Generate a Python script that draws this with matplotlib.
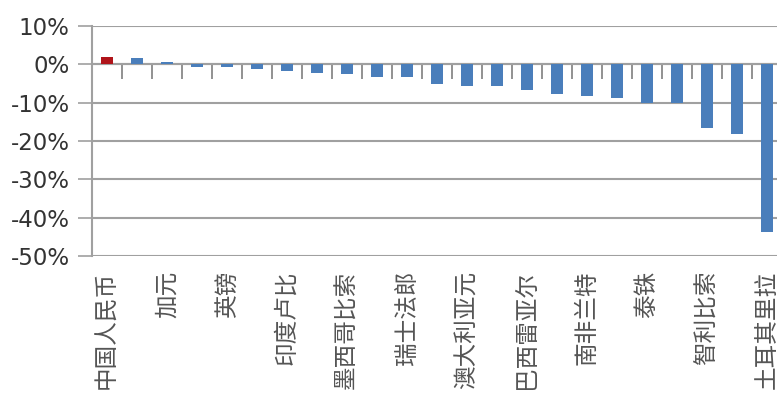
import numpy as np
import matplotlib.pyplot as plt
import matplotlib.transforms as mtransforms

plt.rcParams['font.family'] = ['Noto Sans CJK SC', 'DejaVu Sans']

# currency change vs USD (%), sorted
values = [2.0, 1.6, 0.5, -0.6, -0.6, -1.2, -1.7, -2.2, -2.6, -3.2, -3.2, -5.2,
          -5.7, -5.7, -6.7, -7.7, -8.2, -8.7, -10.0, -10.0, -16.7, -18.2, -43.7]
# only every other category is labelled in the original chart
shown_labels = ['中国人民币', '加元', '英镑', '印度卢比', '墨西哥比索', '瑞士法郎',
                '澳大利亚元', '巴西雷亚尔', '南非兰特', '泰铢', '智利比索', '土耳其里拉']
highlight = 0  # China bar in red

blue = '#4a7ebb'
red = '#b0141a'
grid_c = '#a0a0a0'

fig = plt.figure(figsize=(7.77, 3.94), dpi=100)
ax = fig.add_axes([92/777, (394-256)/394, 690/777, 230/394])

x = np.arange(len(values))
colors = [red if i == highlight else blue for i in x]
ax.bar(x, values, width=0.37, color=colors, zorder=3)

ax.set_xlim(-0.5, len(values) - 0.5)
ax.set_ylim(-50, 10)
ax.set_yticks(np.arange(-50, 11, 10))
ax.set_yticklabels([f'{v}%' for v in range(-50, 11, 10)], family='DejaVu Sans')
ax.yaxis.grid(True, color=grid_c, lw=1.5, zorder=1)
ax.tick_params(axis='y', length=10, width=1.2, color=grid_c, pad=6,
               labelsize=16.5, labelcolor='#333333')

for s in ['top', 'right']:
    ax.spines[s].set_visible(False)
ax.spines['left'].set_color(grid_c)
ax.spines['left'].set_linewidth(1.5)

# category axis crosses at 0
ax.spines['bottom'].set_position(('data', 0))
ax.spines['bottom'].set_color(grid_c)
ax.spines['bottom'].set_linewidth(1.5)
ax.set_xticks(x[:-1] + 0.5)
ax.tick_params(axis='x', length=11, width=1.2, color='#7f7f7f', labelbottom=False)

trans = mtransforms.blended_transform_factory(ax.transData, ax.transAxes)
for i, lab in zip(x[::2], shown_labels):
    ax.text(i, -0.065, lab, rotation=90, ha='center', va='top',
            fontsize=17, color='#555555', transform=trans, clip_on=False)

fig.savefig('out.png', dpi=100)
